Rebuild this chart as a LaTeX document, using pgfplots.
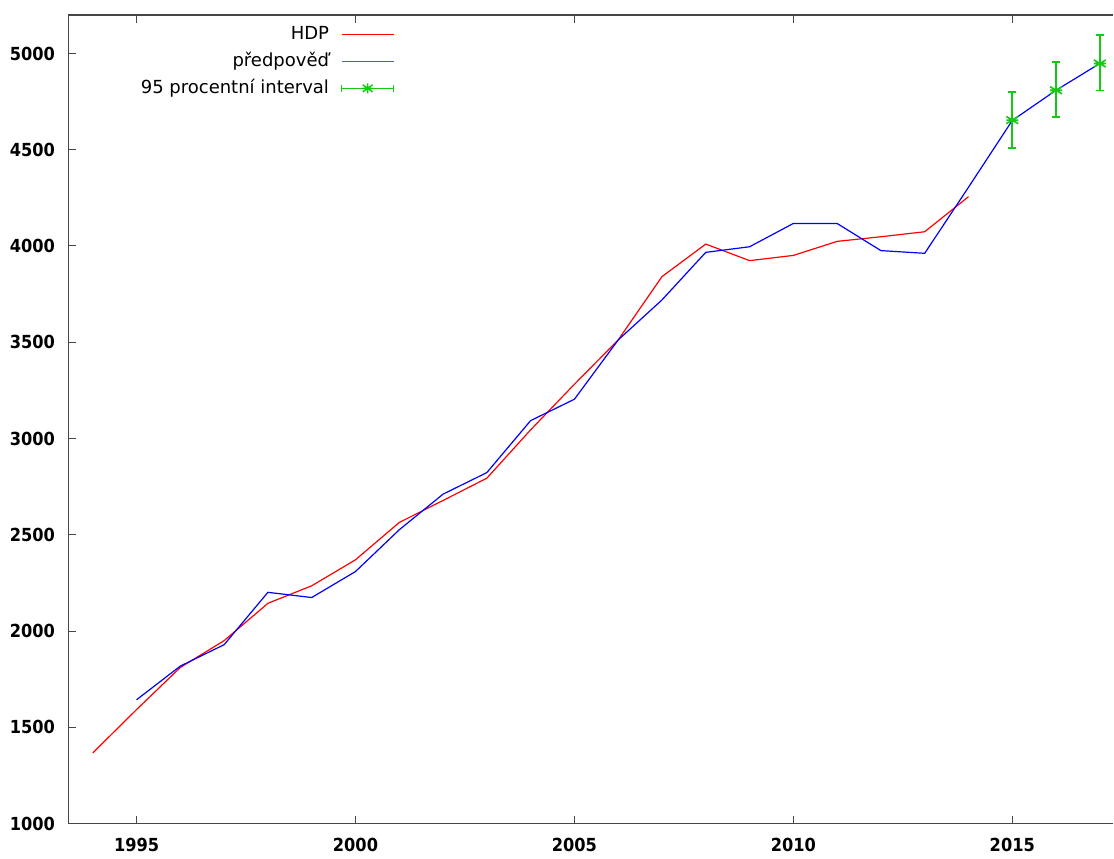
\documentclass[border=0pt]{standalone}
\usepackage{fontspec}
\setmainfont{DejaVu Sans}
\newfontfamily\tickfont{DejaVu Sans Condensed}
\usepackage{pgfplots}
\pgfplotsset{compat=1.18}
\definecolor{gpgreen}{RGB}{20,200,20}
\definecolor{gpblue}{RGB}{0,0,255}
\definecolor{gpbluelight}{RGB}{80,80,255}
\definecolor{gpred}{RGB}{255,0,0}
\definecolor{axgray}{RGB}{70,70,70}
\pgfdeclareplotmark{gpstar}{%
  \pgfpathmoveto{\pgfpoint{-\pgfplotmarksize}{0pt}}%
  \pgfpathlineto{\pgfpoint{\pgfplotmarksize}{0pt}}%
  \pgfpathmoveto{\pgfpoint{0pt}{-0.6\pgfplotmarksize}}%
  \pgfpathlineto{\pgfpoint{0pt}{0.6\pgfplotmarksize}}%
  \pgfpathmoveto{\pgfpoint{-\pgfplotmarksize}{-0.6\pgfplotmarksize}}%
  \pgfpathlineto{\pgfpoint{\pgfplotmarksize}{0.6\pgfplotmarksize}}%
  \pgfpathmoveto{\pgfpoint{-\pgfplotmarksize}{0.6\pgfplotmarksize}}%
  \pgfpathlineto{\pgfpoint{\pgfplotmarksize}{-0.6\pgfplotmarksize}}%
  \pgfusepathqstroke}
\begin{document}
\begin{tikzpicture}
\begin{axis}[
  scale only axis, width=522.85pt, height=404.5pt,
  xmin=1993.44, xmax=2017.31, ymin=1000, ymax=5200,
  axis x line*=box, axis y line*=left,
  xtick={1995,2000,2005,2010,2015},
  ytick={1000,1500,2000,2500,3000,3500,4000,4500,5000},
  tick align=inside, major tick length=3.8pt,
  tick style={axgray, line width=0.5pt},
  axis line style={axgray, line width=0.6pt},
  /pgf/number format/1000 sep={},
  /pgf/number format/assume math mode=true,
  xticklabel style={font=\tickfont\bfseries\fontsize{9}{10}\selectfont, inner sep=0pt, yshift=-7pt, anchor=north},
  yticklabel style={font=\tickfont\bfseries\fontsize{9}{10}\selectfont, inner sep=0pt, xshift=-6.5pt, anchor=east},
  legend cell align=right, legend plot pos=right,
  legend style={at={(rel axis cs:0.3124,0.9901)}, anchor=north east, draw=none, fill=none,
    inner sep=0pt, row sep=2.5pt, column sep=5pt,
    font=\fontsize{9}{10}\selectfont,
    nodes={inner sep=1pt, text height=7pt, text depth=2pt}},
]
\addplot[gpred, line width=0.6pt, legend image code/.code={\draw[draw=gpred, line width=0.7pt] (0pt,0pt) -- (26pt,0pt);}] coordinates {
(1994,1367) (1995,1592) (1996,1811) (1997,1950) (1998,2144) (1999,2235)
(2000,2370) (2001,2564) (2002,2678) (2003,2794) (2004,3045) (2005,3282)
(2006,3512) (2007,3841) (2008,4010) (2009,3924) (2010,3951) (2011,4024)
(2012,4048) (2013,4074) (2014,4256)};
\addlegendentry{HDP}
\addplot[gpblue, line width=0.6pt, legend image code/.code={\draw[draw=gpbluelight, line width=0.7pt] (0pt,0pt) -- (26pt,0pt);}] coordinates {
(1995,1643) (1996,1818) (1997,1929) (1998,2201) (1999,2174)
(2000,2309) (2001,2526) (2002,2711) (2003,2823) (2004,3093) (2005,3204)
(2006,3512) (2007,3720) (2008,3967) (2009,3996) (2010,4117) (2011,4117)
(2012,3976) (2013,3962) (2014,4305) (2015,4652) (2016,4809) (2017,4948)};
\addlegendentry{předpověď}
\addplot[gpgreen, line width=0.8pt, only marks, mark=gpstar, mark size=3pt,
  error bars/.cd, y dir=both, y explicit,
  error bar style={gpgreen, line width=0.8pt},
  error mark options={gpgreen, mark size=1.9pt, line width=0.8pt, rotate=90},
  /pgfplots/legend image code/.code={
    \draw[gpgreen, line width=0.7pt] (0pt,0pt) -- (26pt,0pt);
    \draw[gpgreen, line width=0.7pt] (0pt,-1.75pt) -- (0pt,1.75pt);
    \draw[gpgreen, line width=0.7pt] (26pt,-1.75pt) -- (26pt,1.75pt);
    \draw[gpgreen, line width=0.7pt] (10.5pt,0pt) -- (15.5pt,0pt) (13pt,-2.5pt) -- (13pt,2.5pt)
      (10.5pt,-1.8pt) -- (15.5pt,1.8pt) (10.5pt,1.8pt) -- (15.5pt,-1.8pt);
  }] coordinates {
(2015,4654) += (0,147) -= (0,144)
(2016,4809) += (0,147) -= (0,140)
(2017,4948) += (0,149) -= (0,140)};
\addlegendentry{95 procentní interval}
\end{axis}
\path ([xshift=-34.15pt,yshift=-17.5pt]current axis.south west) rectangle ([yshift=7.5pt]current axis.north east);
\end{tikzpicture}
\end{document}
